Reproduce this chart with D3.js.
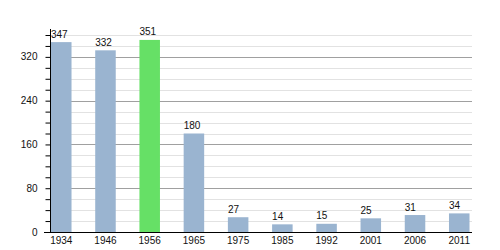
<!DOCTYPE html>
<html>
<head>
<meta charset="utf-8">
<script src="https://cdn.jsdelivr.net/npm/d3@7"></script>
<style>
  body { margin: 0; background: #fff; }
  text { font-family: "Liberation Sans", Arial, sans-serif; font-size: 10px; fill: #111; }
</style>
</head>
<body>
<div id="chart"></div>
<script>
// data
const years = ["1934", "1946", "1956", "1965", "1975", "1985", "1992", "2001", "2006", "2011"];
const population = [347, 332, 351, 180, 27, 14, 15, 25, 31, 34];
const highlightYear = "1956";
const majorTicks = [0, 80, 160, 240, 320];
const minorTicks = d3.range(0, 361, 20);

const width = 500, height = 250;
const plotLeft = 50, plotRight = 472, plotTop = 35, plotBottom = 232;

const svg = d3.select("#chart").append("svg")
    .attr("width", width)
    .attr("height", height);

const x = d3.scaleBand()
    .domain(years)
    .range([51, 469.5])
    .paddingInner(0.536)
    .paddingOuter(0)
    .align(0);

const y = d3.scaleLinear()
    .domain([0, 360])
    .range([plotBottom, plotTop]);

// gridlines, minor first then major on top
svg.append("g").selectAll("line")
    .data(minorTicks.filter(d => d > 0 && !majorTicks.includes(d)))
    .enter().append("line")
    .attr("x1", plotLeft).attr("x2", plotRight)
    .attr("y1", d => Math.round(y(d)) + 0.5)
    .attr("y2", d => Math.round(y(d)) + 0.5)
    .style("stroke", "#e2e2e2");

svg.append("g").selectAll("line")
    .data(majorTicks.filter(d => d > 0))
    .enter().append("line")
    .attr("x1", plotLeft).attr("x2", plotRight)
    .attr("y1", d => Math.round(y(d)) + 0.5)
    .attr("y2", d => Math.round(y(d)) + 0.5)
    .style("stroke", "#a0a0a0");

// bars
svg.append("g").selectAll("rect")
    .data(years)
    .enter().append("rect")
    .attr("x", d => x(d))
    .attr("width", x.bandwidth())
    .attr("y", (d, i) => y(population[i]))
    .attr("height", (d, i) => y(0) - y(population[i]))
    .style("fill", d => d === highlightYear ? "#66e066" : "#9ab4d0");

// value labels, left aligned to the bar
svg.append("g").selectAll("text")
    .data(years)
    .enter().append("text")
    .attr("x", d => x(d))
    .attr("y", (d, i) => y(population[i]) - 4.5)
    .text((d, i) => population[i]);

// y axis with minor ticks
const yAxis = svg.append("g")
    .attr("transform", `translate(${plotLeft + 0.5},0)`);

yAxis.call(d3.axisLeft(y).tickValues(minorTicks).tickSize(5).tickFormat(""))
    .call(g => g.select(".domain").remove());

yAxis.append("line")
    .attr("y1", 29).attr("y2", plotBottom)
    .style("stroke", "#000");

yAxis.selectAll(".tick line").style("stroke", "#000");

yAxis.append("g").selectAll("text")
    .data(majorTicks)
    .enter().append("text")
    .attr("x", -13)
    .attr("y", d => y(d))
    .attr("dy", "0.35em")
    .attr("text-anchor", "end")
    .text(d => d);

// x axis
const xAxis = svg.append("g")
    .attr("transform", `translate(0,${plotBottom + 0.5})`);

xAxis.append("line")
    .attr("x1", 44).attr("x2", plotRight)
    .style("stroke", "#000");

xAxis.selectAll("text")
    .data(years)
    .enter().append("text")
    .attr("x", d => x(d) + x.bandwidth() / 2)
    .attr("y", 11)
    .attr("text-anchor", "middle")
    .text(d => d);
</script>
</body>
</html>
